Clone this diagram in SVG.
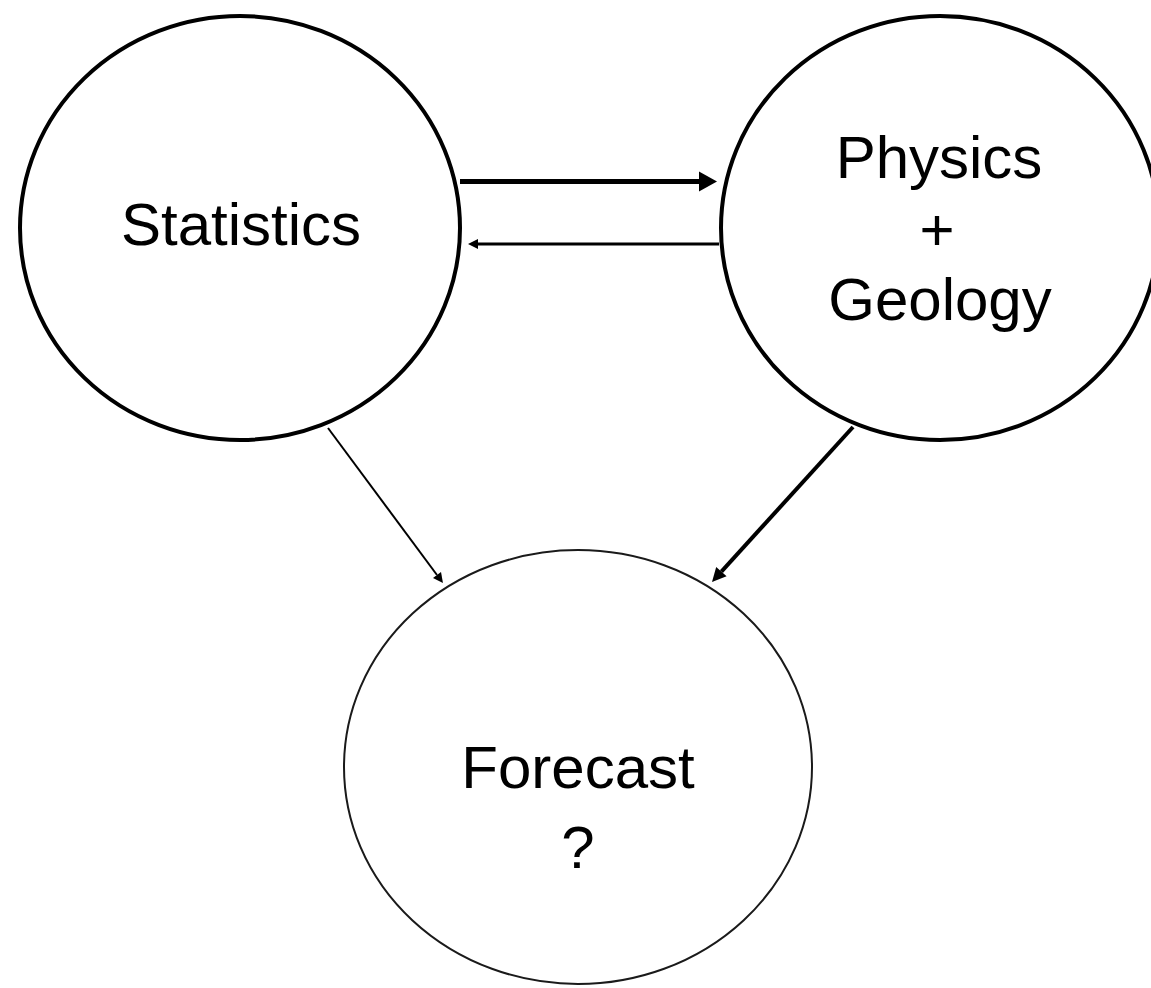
<svg xmlns="http://www.w3.org/2000/svg" width="1151" height="988" viewBox="0 0 1151 988">
  <style>
    .node { fill: #ffffff; stroke: #000000; }
    .thick { stroke-width: 4; }
    .thin { stroke-width: 2; stroke: #1a1a1a; }
    .label { font-family: "Liberation Sans", Arial, sans-serif; font-size: 60px; fill: #000000; text-anchor: middle; }
    .conn { stroke: #000000; fill: none; }
  </style>
  <defs>
    <marker id="headBig" markerUnits="userSpaceOnUse" viewBox="0 -11 20 22" markerWidth="20" markerHeight="22" refX="0" refY="0" orient="auto" overflow="visible">
      <path d="M0,-10 L18,0 L0,10 Z" fill="#000000"/>
    </marker>
    <marker id="headMid" markerUnits="userSpaceOnUse" viewBox="0 -8 16 16" markerWidth="16" markerHeight="16" refX="0" refY="0" orient="auto" overflow="visible">
      <path d="M0,-7 L14,0 L0,7 Z" fill="#000000"/>
    </marker>
    <marker id="headSmall" markerUnits="userSpaceOnUse" viewBox="0 -6 12 12" markerWidth="12" markerHeight="12" refX="0" refY="0" orient="auto" overflow="visible">
      <path d="M0,-5 L10,0 L0,5 Z" fill="#000000"/>
    </marker>
  </defs>
  <rect x="0" y="0" width="1151" height="988" fill="#ffffff"/>

  <g id="node-statistics">
    <ellipse class="node thick" cx="240" cy="228" rx="220" ry="212"/>
    <text class="label" x="241" y="245">Statistics</text>
  </g>

  <g id="node-physics-geology">
    <ellipse class="node thick" cx="940" cy="228" rx="219" ry="212"/>
    <text class="label" x="939" y="178">Physics</text>
    <text class="label" x="937" y="250">+</text>
    <text class="label" x="940" y="320">Geology</text>
  </g>

  <g id="node-forecast">
    <ellipse class="node thin" cx="578" cy="767" rx="234" ry="217"/>
    <text class="label" x="578" y="788">Forecast</text>
    <text class="label" x="578" y="868">?</text>
  </g>

  <g id="connectors">
    <line class="conn" x1="460" y1="181.5" x2="699" y2="181.5" stroke-width="5" marker-end="url(#headBig)"/>
    <line class="conn" x1="719" y1="244" x2="478" y2="244" stroke-width="3" marker-end="url(#headSmall)"/>
    <line class="conn" x1="328" y1="428" x2="437" y2="575" stroke-width="2" marker-end="url(#headSmall)"/>
    <line class="conn" x1="853" y1="427" x2="721.4" y2="571.6" stroke-width="4" marker-end="url(#headMid)"/>
  </g>
</svg>
